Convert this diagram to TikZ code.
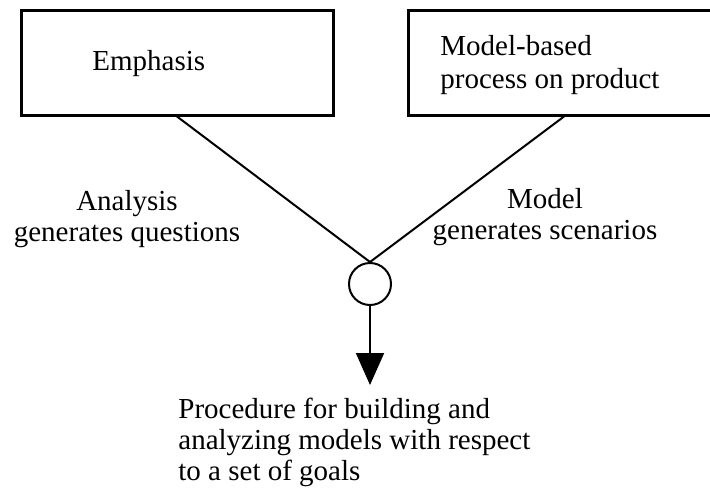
\documentclass[tikz,border=0pt]{standalone}
\usepackage{fontspec}
\setmainfont{Liberation Serif}
\usetikzlibrary{arrows.meta}
\tikzset{
  boxnode/.style={draw,line width=1.5pt,minimum width=156pt,minimum height=52.5pt,inner sep=0pt},
  lbl/.style={font=\fontsize{14.5}{15.5}\selectfont,inner sep=0pt},
  junction/.style={draw,circle,line width=1pt,minimum size=21pt,inner sep=0pt}
}
\begin{document}
\begin{tikzpicture}[x=0.5pt,y=-0.5pt]
  \useasboundingbox (0,0) rectangle (710,498);
  \clip (0,0) rectangle (710,498);
  \node[boxnode] (emph) at (177,62.5) {};
  \node[lbl,anchor=base west] (emphtxt) at (92,70) {Emphasis};

  \node[boxnode] (model) at (564,62.5) {};
  \node[lbl,anchor=base west,align=left,font=\fontsize{14.5}{16.5}\selectfont] (modeltxt) at (440,88) {Model-based\\process on product};

  \node[junction] (junc) at (370,284) {};
  \coordinate (tip) at (370,385);

  \draw[line width=1pt] (emph.south) -- (junc.north);
  \draw[line width=1pt] (model.south) -- (junc.north);
  \draw[line width=1pt,-{Triangle[length=16pt,width=14pt]}] (junc.south) -- (tip);

  \node[lbl,anchor=base,align=center] (ana) at (127,241) {Analysis\\generates questions};
  \node[lbl,anchor=base,align=center] (gen) at (545,239) {Model\\generates scenarios};
  \node[lbl,anchor=base west,align=left] (proc) at (178,480) {Procedure for building and\\analyzing models with respect\\to a set of goals};
\end{tikzpicture}
\end{document}
